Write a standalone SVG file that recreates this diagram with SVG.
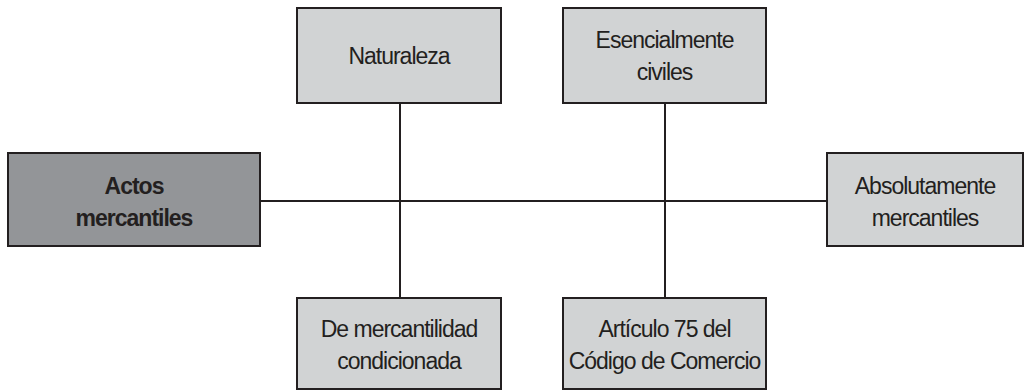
<svg xmlns="http://www.w3.org/2000/svg" width="1024" height="391" viewBox="0 0 1024 391">
<style>
.box{fill:#d1d3d4;stroke:#231f20;stroke-width:2}
.dark{fill:#939598}
.t{font-family:"Liberation Sans",Arial,sans-serif;font-size:23px;fill:#231f20;text-anchor:middle;letter-spacing:-1px}
.b{font-weight:bold;letter-spacing:-1px}
.c{stroke:#231f20;stroke-width:2;fill:none}
</style>
<rect width="1024" height="391" fill="#ffffff"/>
<g id="connectors">
<line class="c" x1="260" y1="201" x2="827" y2="201"/>
<line class="c" x1="400" y1="103" x2="400" y2="298"/>
<line class="c" x1="665" y1="103" x2="665" y2="298"/>
</g>
<g id="actos">
<rect class="box dark" x="8" y="153" width="252" height="93"/>
<text class="t b" x="134" y="194">Actos</text>
<text class="t b" x="134" y="226">mercantiles</text>
</g>
<g id="naturaleza">
<rect class="box" x="297" y="8" width="204" height="95"/>
<text class="t" x="399" y="64">Naturaleza</text>
</g>
<g id="esencialmente">
<rect class="box" x="563" y="8" width="203" height="95"/>
<text class="t" x="664.5" y="48">Esencialmente</text>
<text class="t" x="664.5" y="80">civiles</text>
</g>
<g id="mercantilidad">
<rect class="box" x="297" y="298" width="204" height="91"/>
<text class="t" x="399" y="337">De mercantilidad</text>
<text class="t" x="399" y="369">condicionada</text>
</g>
<g id="articulo">
<rect class="box" x="563" y="298" width="203" height="91"/>
<text class="t" x="664.5" y="337">Artículo 75 del</text>
<text class="t" x="664.5" y="369">Código de Comercio</text>
</g>
<g id="absolutamente">
<rect class="box" x="827" y="153" width="196" height="93"/>
<text class="t" x="925" y="194">Absolutamente</text>
<text class="t" x="925" y="226">mercantiles</text>
</g>
</svg>
